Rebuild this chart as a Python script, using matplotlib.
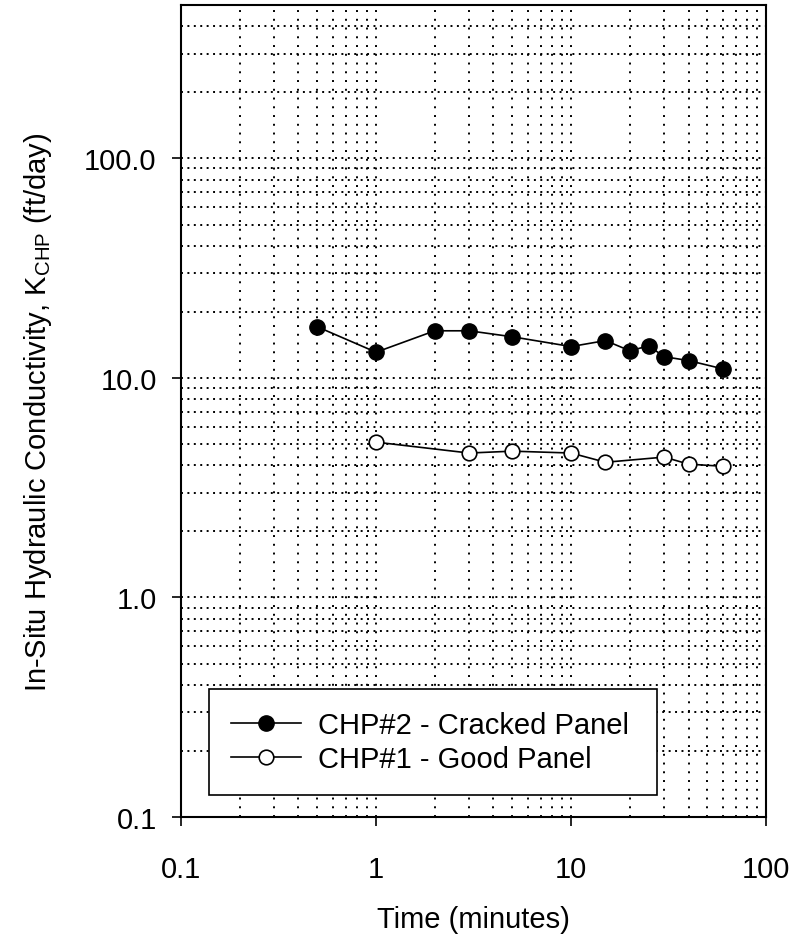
import numpy as np
import matplotlib
matplotlib.use("Agg")
import matplotlib.pyplot as plt
from matplotlib.ticker import LogLocator, NullFormatter

plt.rcParams['font.family'] = ['Liberation Sans', 'DejaVu Sans']
plt.rcParams['mathtext.fontset'] = 'custom'
plt.rcParams['mathtext.rm'] = 'Liberation Sans'
plt.rcParams['mathtext.it'] = 'Liberation Sans'

# cracked panel (CHP#2)
t_cracked = [0.5, 1, 2, 3, 5, 10, 15, 20, 25, 30, 40, 60]
k_cracked = [17.1, 13.1, 16.4, 16.4, 15.4, 13.9, 14.8, 13.3, 14.0, 12.5, 12.0, 11.0]

# good panel (CHP#1)
t_good = [1, 3, 5, 10, 15, 30, 40, 60]
k_good = [5.1, 4.55, 4.64, 4.55, 4.13, 4.36, 4.05, 3.96]

x_ticks = [0.1, 1, 10, 100]
x_labels = ['0.1', '1', '10', '100']
y_ticks = [0.1, 1, 10, 100]
y_labels = ['0.1', '1.0', '10.0', '100.0']

fs = 21

fig = plt.figure(figsize=(8.05, 9.37), dpi=100)
ax = fig.add_axes([0.2248, 0.127, 0.727, 0.8666])

ax.set_xscale('log')
ax.set_yscale('log')
ax.set_xlim(0.1, 100)
ax.set_ylim(0.1, 500)

ax.set_xticks(x_ticks)
ax.set_xticklabels(x_labels)
ax.set_yticks(y_ticks)
ax.set_yticklabels(y_labels)
ax.xaxis.set_minor_locator(LogLocator(base=10, subs=np.arange(2, 10)))
ax.yaxis.set_minor_locator(LogLocator(base=10, subs=np.arange(2, 10)))
ax.xaxis.set_minor_formatter(NullFormatter())
ax.yaxis.set_minor_formatter(NullFormatter())

ax.tick_params(which='major', direction='out', length=6.5, width=1.2, labelsize=fs)
ax.tick_params(axis='x', which='major', pad=21)
ax.tick_params(axis='y', which='major', pad=11)
ax.tick_params(which='minor', length=0)

# dotted grid at major and minor positions
ax.xaxis.grid(True, which='both', color='black', linewidth=1.4, linestyle=(0, (1, 3.5)))
ax.yaxis.grid(True, which='both', color='black', linewidth=1.4, linestyle=(0, (1, 2.3)))
ax.set_axisbelow(True)

for s in ax.spines.values():
    s.set_linewidth(1.5)

ax.plot(t_cracked, k_cracked, '-o', color='black', linewidth=1.2,
        markersize=11, markerfacecolor='black', markeredgecolor='black',
        label='CHP#2 - Cracked Panel', zorder=3)
ax.plot(t_good, k_good, '-o', color='black', linewidth=1.2,
        markersize=10.5, markerfacecolor='white', markeredgecolor='black',
        markeredgewidth=1.2, label='CHP#1 - Good Panel', zorder=3)

ax.set_xlabel('Time (minutes)', fontsize=fs, labelpad=16)
ax.set_ylabel(r'In-Situ Hydraulic Conductivity, K$_{\mathrm{CHP}}$ (ft/day)',
              fontsize=fs, labelpad=22)

leg = ax.legend(loc='lower left', bbox_to_anchor=(0.048, 0.027, 0.766, 0.14),
                mode='expand', fontsize=fs, frameon=True, fancybox=False,
                handlelength=2.4, handletextpad=0.6, borderpad=0.75,
                labelspacing=0.2, borderaxespad=0)
leg.get_frame().set_edgecolor('black')
leg.get_frame().set_linewidth(1.2)
leg.get_frame().set_alpha(1)

fig.savefig('out.png', dpi=100)
